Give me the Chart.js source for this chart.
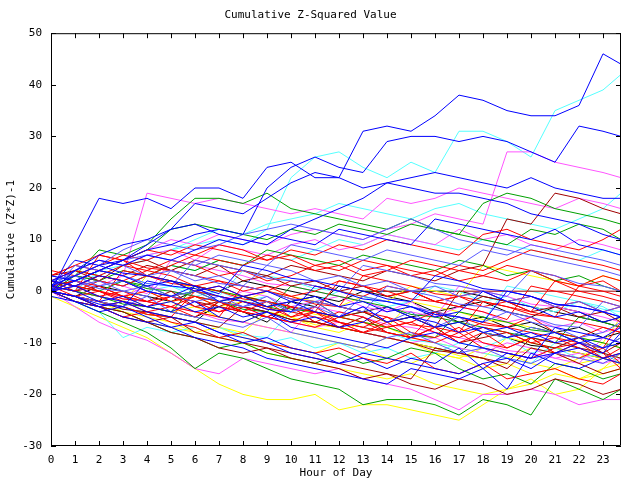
<!DOCTYPE html>
<html>
<head>
<meta charset="utf-8">
<script src="https://cdn.jsdelivr.net/npm/chart.js@4/dist/chart.umd.min.js"></script>
<style>
  body { margin: 0; background: #fff; }
  #zChart { display: block; }
</style>
</head>
<body>
<canvas id="zChart" width="640" height="480"></canvas>
<script>
var hours = [0, 1, 2, 3, 4, 5, 6, 7, 8, 9, 10, 11, 12, 13, 14, 15, 16, 17, 18, 19, 20, 21, 22, 23, 23.75];
var xTicks = [0, 1, 2, 3, 4, 5, 6, 7, 8, 9, 10, 11, 12, 13, 14, 15, 16, 17, 18, 19, 20, 21, 22, 23];
var yTicks = [-30, -20, -10, 0, 10, 20, 30, 40, 50];

// cumulative (z*z)-1, one array per day, grouped by line colour
var blueRuns = [
  [0, 9, 18, 17, 18, 16, 20, 20, 18, 24, 25, 22, 22, 31, 32, 31, 34, 38, 37, 35, 34, 34, 36, 46, 44],
  [0, 2, 4, 6, 8, 9, 11, 12, 11, 20, 24, 26, 24, 23, 29, 30, 30, 29, 30, 29, 27, 25, 32, 31, 30],
  [0, 4, 7, 9, 10, 12, 13, 11, 10, 9, 12, 14, 16, 18, 21, 22, 23, 22, 21, 20, 22, 20, 19, 18, 18],
  [1, 3, 5, 6, 9, 12, 17, 16, 15, 18, 21, 23, 22, 20, 21, 20, 19, 19, 18, 17, 15, 14, 13, 11, 10],
  [2, 4, 6, 5, 7, 6, 8, 10, 9, 11, 10, 9, 12, 11, 10, 9, 14, 13, 12, 11, 10, 12, 9, 8, 7],
  [1, 0, -2, -1, -3, -2, -4, -3, -5, -4, -6, -5, -7, -6, -3, -5, -6, -8, -7, -9, -8, -10, -9, -11, -10],
  [0, -2, -3, -5, -6, -7, -9, -10, -11, -13, -14, -15, -16, -17, -18, -15, -16, -17, -15, -19, -12, -14, -15, -13, -12],
  [0, -1, -3, -2, -4, -5, -6, -8, -9, -10, -12, -13, -14, -12, -13, -14, -15, -16, -14, -13, -15, -12, -11, -13, -14],
  [3, 2, 4, 3, 1, 2, 0, 1, -1, 0, -2, -1, -3, -2, -4, -3, -5, -4, 0, -2, -3, -5, -4, -6, -5],
  [0, 1, -1, -2, -3, -4, -2, -5, -6, -4, -7, -8, -9, -10, -11, -9, -8, -10, -11, -12, -13, -7, -8, -9, -10],
  [-1, -2, -4, -3, -5, -7, -6, -8, -10, -9, -11, -12, -14, -13, -15, -13, -14, -11, -15, -12, -13, -12, -10, -12, -8],
  [2, 1, 3, 2, 0, -1, 1, -2, -1, -3, -2, -4, -5, -3, -6, -5, -7, -6, -8, -7, -9, -8, -10, -9, -7],
  [0, -1, -2.5, -3, 2, 1, 0.5, -1, -2, -3.5, -4, 1, 0, -1.5, -2, -3, -4.5, -5, -6, 0, -1, -2.5, -3, -4, -5],
  [1, 6, 5, 3.5, 3, 2, 1, -0.5, 5, 4, 2.5, 2, 1, 0, -1.5, -2, 3, 2, 0.5, 0, -1, -2.5, -3, -4, -5]
];
var slateRuns = [
  [1, 3, 5, 8, 10, 9, 8, 9, 11, 12, 13, 12, 11, 10, 12, 14, 12, 10, 9, 8, 7, 6, 5, 4, 3],
  [0, 2, 4, 6, 7, 6, 5, 7, 6, 5, 9, 8, 7, 6, 8, 7, 6, 5, 8, 7, 9, 8, 7, 6, 5],
  [2, 3, 1, 2, 0, -1, -2, -1, -3, -2, -4, -3, -5, -1, -2, -3, -4, -5, -6, -4, -6, -7, -9, -8, -6],
  [0, -1, -2, -3, -1, -4, -5, -6, -7, -5, -8, -9, -10, -11, -9, -8, -10, -12, -11, -13, -14, -12, -13, -14, -12],
  [1, 4, 6, 5, 3, 4, 2, 3, 1, 5, 4, 2, 3, 1, 2, 0, 1, -1, 0, -2, -1, -3, -2, -4, -3],
  [0, 1, 2, 0, 1, -1, 0, -2, -3, -1, -4, -2, -5, -3, -6, -4, -7, -5, -8, -9, -7, -8, -10, -11, -9],
  [3, 2, 0.5, 0, -1, 4, 3, 1.5, 1, 0, -1.5, -2, -3, -4, 1, 0, -1, -2.5, -3, -4, -5, -6.5, -7, -2, -3],
  [0, 5, 4, 3, 1.5, 1, 6, 5, 4, 2.5, 2, 1, 0, 5, 4, 3, 1.5, 1, 0, -1, 4, 3, 1.5, 1, 0]
];
var redRuns = [
  [3, 5, 7, 6, 8, 7, 9, 8, 7, 6, 8, 7, 9, 8, 10, 9, 8, 7, 11, 12, 10, 9, 8, 10, 12],
  [2, 4, 3, 5, 4, 6, 5, 3, 4, 2, 3, 5, 4, 6, 5, 4, 3, 5, 4, 6, 8, 7, 6, 5, 4],
  [1, 0, 2, 1, 3, 2, 0, 1, -1, 0, 2, 1, 0, -1, 1, 0, -2, -1, 0, -2, -1, -3, -2, -4, -3],
  [0, -1, -3, -2, -4, -3, -5, -2, -4, -5, -3, -6, -4, -5, -7, -6, -4, -8, -6, -7, -5, -8, -9, -7, -8],
  [1, -1, 0, -2, -3, -1, -2, -4, -3, -5, -6, -4, -7, -8, -6, -9, -7, -10, -8, -11, -9, -12, -10, -13, -11],
  [0, 2, 1, -1, 0, -2, -1, -3, -4, -2, -5, -3, -6, -7, -5, -8, -9, -7, -10, -11, -9, -12, -13, -11, -14],
  [2, 1, 3, 2, 4, 3, 1, 2, 0, 1, -1, 0, 2, 1, -1, 0, -2, -1, -3, -2, -4, 2, 0, -1, -2],
  [0, 1, -1, 0, -2, -1, -3, -4, -2, -3, -5, -4, -6, -8, -7, -6, -8, -9, -7, -8, -10, -9, -11, -13, -12],
  [4, 3, 5, 7, 6, 8, 7, 6, 5, 7, 6, 4, 5, 3, 4, 6, 5, 4, 3, 2, 4, 3, 1, 2, 0],
  [1, 2, 0, -1, -2, -3, -1, -2, -4, -5, -6, -7, -5, -6, -8, -9, -10, -8, -11, -12, -13, -11, -10, -12, -15],
  [0, -2, -3, -5, -4, -6, -7, -9, -8, -10, -11, -12, -11, -13, -14, -12, -15, -16, -14, -17, -16, -15, -17, -18, -16],
  [3, 5, 4, 6, 3, 5, 7, 9, 8, 6, 7, 5, 6, 4, 5, 3, 4, 2, 3, 5, 4, 2, 1, 3, 2],
  [0, -1, -2, 4, 3, 1.5, 1, 0, -1.5, -2, -3, -4, 2, 1, 0, -1.5, -2, -3, -4, -5.5, 1, 0, -1, -2, -3],
  [2, 1, 0, -1.5, -2, -3, -4, -5, 1, 0, -1, -2.5, -3, -4, -5, -6.5, -7, -8, -2, -3, -4.5, -5, -6, -7, -8],
  [1, 0, 7, 6, 4.5, 4, 3, 2, 1, 0, -1.5, -2, -3, 3, 2, 1, -0.5, -1, -2, -3, -4, -5, 1, 0, -1],
  [0, -1, -2, -3, -4.5, -5, 0, -1, -2, -3.5, -4, -5, -6, -7, -8, -9, -4, -5, -6.5, -7, -8, -9, -10, -11, -6]
];
var darkRedRuns = [
  [1, 2, 4, 3, 5, 4, 6, 5, 4, 3, 5, 4, 3, 2, 4, 3, 2, 4, 5, 14, 13, 19, 18, 16, 15],
  [0, -1, -3, -4, -6, -5, -8, -9, -10, -11, -12, -13, -14, -15, -16, -17, -11, -12, -13, -15, -11, -12, -14, -16, -15],
  [2, 0, 1, -1, -2, 0, -3, -2, -4, -5, -3, -6, -7, -5, -8, -9, -7, -10, -9, -8, -10, -11, -9, -12, -10],
  [3, 4, 2, 5, 6, 4, 3, 5, 2, 3, 1, 2, 0, 1, -1, 0, -2, -3, -1, -2, -4, -3, -5, -4, -6],
  [0, -2, -3, -5, -6, -8, -9, -11, -12, -11, -13, -14, -15, -17, -16, -18, -19, -17, -18, -20, -19, -17, -18, -20, -19],
  [0, -1, -2, -3.5, -4, -5, -6, -7, -3, -4, -5.5, -6, -7, -8, -9, -10, -11.5, -12, -13, -14, -9, -10, -11, -12, -13],
  [2, 1, 3, 2, 0, -1, -2, -3, -1, -2, -3, -4, -5, -4, -6, -5, -7, 0, 0, 0, 0, 0, 0, 0, 0]
];
var greenRuns = [
  [0, 3, 8, 7, 9, 14, 18, 18, 17, 19, 16, 15, 14, 13, 12, 14, 12, 11, 17, 19, 18, 16, 15, 14, 13],
  [1, 2, 4, 6, 8, 12, 13, 12, 11, 10, 12, 11, 13, 12, 11, 13, 12, 11, 10, 9, 12, 11, 13, 12, 10],
  [0, -2, -4, -6, -8, -11, -15, -12, -13, -15, -17, -18, -19, -22, -21, -21, -22, -24, -21, -22, -24, -17, -19, -21, -19],
  [0, -1, -3, -4, -6, -8, -9, -11, -10, -12, -13, -14, -12, -14, -13, -11, -12, -15, -17, -16, -18, -14, -15, -17, -16],
  [2, 1, 0, 2, 1, -1, 0, -2, -1, -3, -4, -2, -5, -4, -6, -5, -7, -6, -8, -9, -7, -8, -10, -11, -9],
  [1, 3, 2, 4, 3, 5, 4, 6, 5, 8, 7, 6, 5, 7, 6, 5, 4, 6, 5, 3, 4, 2, 3, 1, 0],
  [1, 0, -1, -2.5, -3, -4, 1, 0, -1, -2, -3.5, -4, -5, -6, -7, -8.5, -9, -4, -5, -6, -7.5, -8, -9, -10, -11],
  [0, 4, 3, 2, 0.5, 0, -1, -2, -3.5, -4, 1, 0, -1, -2, -3, -4.5, -5, -6, -7, -8, -9, -10, -5, -6, -7]
];
var magentaRuns = [
  [0, 2, 4, 6, 8, 10, 9, 11, 10, 9, 11, 12, 11, 10, 12, 13, 15, 14, 13, 27, 27, 25, 24, 23, 22],
  [0, 2, 1, 3, 19, 18, 17, 18, 17, 16, 15, 16, 15, 14, 18, 17, 18, 20, 19, 18, 17, 16, 18, 17, 16],
  [0, -3, -6, -8, -9.5, -12, -15, -16, -13, -14, -15, -16, -15, -17, -18, -19, -21, -23, -20, -20, -19, -20, -22, -21, -21],
  [1, 0, -1, -2, -3, -1, -2, -4, -3, -5, -6, -7, -6, -8, -9, -10, -9, -11, -12, -10, -11, -13, -12, -14, -13],
  [2, 4, 6, 5, 7, 8, 6, 9, 8, 7, 9, 10, 8, 9, 11, 10, 9, 12, 10, 11, 9, 8, 10, 9, 8],
  [0, 1, 0, -1, 1, 0, -1, -2, 0, -1, -3, -2, -1, -3, -4, -2, -5, -3, -4, -6, -5, -7, -6, -8, -7],
  [2, 1, 0, -1.5, -2, -3, -4, -5.5, -6, -7, -8, -3, -4, -5, -6.5, -7, -8, -9, -10, -11.5, -12, -13, -14, -9, -10],
  [0, 3, 2, 1, -0.5, 6, 5, 4, 3, 1.5, 1, 0, -1, -2, -3.5, -4, -5, 1, 0, -1, -2.5, -3, -4, -5, -6]
];
var cyanRuns = [
  [1, 2, 4, 5, 7, 8, 9, 10, 9, 12, 22, 26, 27, 24, 22, 25, 23, 31, 31, 29, 26, 35, 37, 39, 42],
  [0, 2, 3, 5, 6, 8, 10, 12, 11, 13, 14, 15, 17, 16, 15, 14, 16, 17, 15, 14, 13, 12, 14, 16, 19],
  [1, 0, 2, 1, 3, 5, 4, 6, 5, 7, 6, 8, 10, 9, 11, 10, 9, 8, 10, 9, 8, 7, 6, 8, 7],
  [0, -2, -4, -9, -7, -8, -7, -9, -8, -10, -9, -11, -10, -12, -11, -13, -12, -10, -11, -9, -12, -11, -13, -12, -14],
  [2, 3, 1, 2, 0, 1, -1, 0, -2, -1, -3, -2, 0, -1, -3, -2, 1, 0, -2, -1, -3, -4, -2, -3, -5],
  [0, -1, -2, -3.5, -4, -5, -6, -7, -8.5, -9, -4, -5, -6, -7, -8, -9.5, -10, -11, -12, -13, -14, -10, -11, -12, -13],
  [1, 0, 4, 3, 1.5, 1, 0, -1, 4, 3, 2, 0.5, 0, -1, -2, -3, -4.5, -5, -6, 1, 0, -1, -2, -3.5, -4]
];
var yellowRuns = [
  [-1, -3, -5, -7, -9, -12, -15, -18, -20, -21, -21, -20, -23, -22, -22, -23, -24, -25, -22, -19, -17, -20, -19, -15, -12],
  [0, -2, -3, -4, -6, -7, -8, -7, -9, -10, -11, -12, -10, -11, -13, -14, -12, -13, -15, -14, -16, -15, -17, -16, -15],
  [1, 0, -1, -2, -3, -2, -4, -5, -6, -4, -5, -7, -8, -6, -7, -9, -10, -11, -12, -13, -11, -12, -14, -13, -12],
  [0, 1, 0, -1, 0, -2, -1, -3, -2, 0, -1, -2, -3, -1, -2, 1, 0, -1, 5, 4, 3, 2, 1, 3, 2],
  [2, 1, 0, -1, -3, -4, -3, -5, -6, -7, -8, -9, -10, -11, -9, -10, -12, -13, -11, -12, -14, -15, -13, -10, -11],
  [0, -1, -2, -4, -5, -6, -8, -9, -10, -12, -13, -14, -15, -16, -17, -16, -18, -19, -20, -19, -18, -16, -17, -15, -14],
  [0, -1, -2, -3, -4.5, -5, -6, -7, -8, -4, -5, -6.5, -7, -8, -9, -10, -11, -12.5, -13, -9, -10, -11, -12, -13, -14],
  [1, 0, -1, -2, 3, 2, 0.5, 0, -1, -2, -3, -4.5, -5, -6, -7, -2, -3, -4, -5.5, -6, -7, -8, -9, -10, -5]
];
var blackRuns = [
  [0, -1, 1, 0, -1, -2, 0, -1, -2, -3, -2, -1, -3, -4, -3, -5, -4, -6, -5, -7, -6, -8, -7, -9, -8],
  [1, 0, -1, -2, -3, -4, -5, -3, -4, -6, -2, -3, 1, 0, 0, 0, 0, 0, -1, -2, -3, -4, -5, -6, -7],
  [2, 3, 2, 1, 3, 2, 1, 0, 2, 1, 0, -1, -2, 0, -1, -2, -4, -3, -2, -4, -5, -3, -4, -6, -5],
  [0, -1, -2, -3, -4.5, -5, -6, -2, -3, -4, -5.5, -6, -7, -8, -9, -10, -11, -12, -8, -9, -10.5, -11, -12, -13, -14]
];

var groups = [
  [blueRuns, '#0000ff'],
  [slateRuns, '#5a5aff'],
  [redRuns, '#ff0000'],
  [darkRedRuns, '#a00000'],
  [greenRuns, '#00a000'],
  [magentaRuns, '#ff55ff'],
  [cyanRuns, '#55ffff'],
  [yellowRuns, '#ffff00'],
  [blackRuns, '#000000']
];

var datasets = [];
groups.forEach(function (g) {
  g[0].forEach(function (run) {
    datasets.push({
      data: run.map(function (v, i) { return { x: hours[i], y: v }; }),
      borderColor: g[1],
      borderWidth: 1,
      pointRadius: 0,
      fill: false
    });
  });
});

var font = { family: 'DejaVu Sans Mono', size: 11, weight: 'normal' };

// black frame with short inward tick marks on all four sides
var frame = {
  id: 'frame',
  afterDatasetsDraw: function (chart) {
    var ctx = chart.ctx, a = chart.chartArea, x = chart.scales.x, y = chart.scales.y;
    ctx.save();
    ctx.strokeStyle = '#000';
    ctx.lineWidth = 1;
    ctx.beginPath();
    ctx.rect(a.left + 0.5, a.top + 0.5, a.right - a.left - 1, a.bottom - a.top - 1);
    x.ticks.forEach(function (t) {
      var px = Math.round(x.getPixelForValue(t.value)) + 0.5;
      ctx.moveTo(px, a.bottom); ctx.lineTo(px, a.bottom - 5);
      ctx.moveTo(px, a.top); ctx.lineTo(px, a.top + 5);
    });
    y.ticks.forEach(function (t) {
      var py = Math.round(y.getPixelForValue(t.value)) + 0.5;
      ctx.moveTo(a.left, py); ctx.lineTo(a.left + 5, py);
      ctx.moveTo(a.right, py); ctx.lineTo(a.right - 5, py);
    });
    ctx.stroke();
    ctx.restore();
  }
};

var zChart = new Chart(document.getElementById('zChart'), {
  type: 'line',
  data: { datasets: datasets },
  plugins: [frame],
  options: {
    responsive: false,
    animation: false,
    devicePixelRatio: 1,
    elements: { line: { tension: 0 } },
    layout: { padding: { left: 0, right: 19, top: 0, bottom: 0 } },
    plugins: {
      legend: { display: false },
      tooltip: { enabled: false },
      title: {
        display: true,
        text: 'Cumulative Z-Squared Value',
        color: '#000',
        font: font,
        padding: { top: 9, bottom: 11 }
      }
    },
    scales: {
      x: {
        type: 'linear',
        min: 0,
        max: 23.75,
        grid: { display: false, drawTicks: false },
        border: { display: false },
        afterBuildTicks: function (axis) {
          axis.ticks = xTicks.map(function (v) { return { value: v }; });
        },
        afterFit: function (scale) { scale.height = 34; },
        ticks: { autoSkip: false, maxRotation: 0, color: '#000', font: font, padding: 8 },
        title: { display: true, text: 'Hour of Day', color: '#000', font: font, padding: { top: 0, bottom: 0 } }
      },
      y: {
        min: -30,
        max: 50,
        grid: { display: false, drawTicks: false },
        border: { display: false },
        afterBuildTicks: function (axis) {
          axis.ticks = yTicks.map(function (v) { return { value: v }; });
        },
        afterFit: function (scale) { scale.width = 51; },
        ticks: { color: '#000', font: font, padding: 9 },
        title: { display: true, text: 'Cumulative (Z*Z)-1', color: '#000', font: font, padding: { top: 5, bottom: 2 } }
      }
    }
  }
});
</script>
</body>
</html>
